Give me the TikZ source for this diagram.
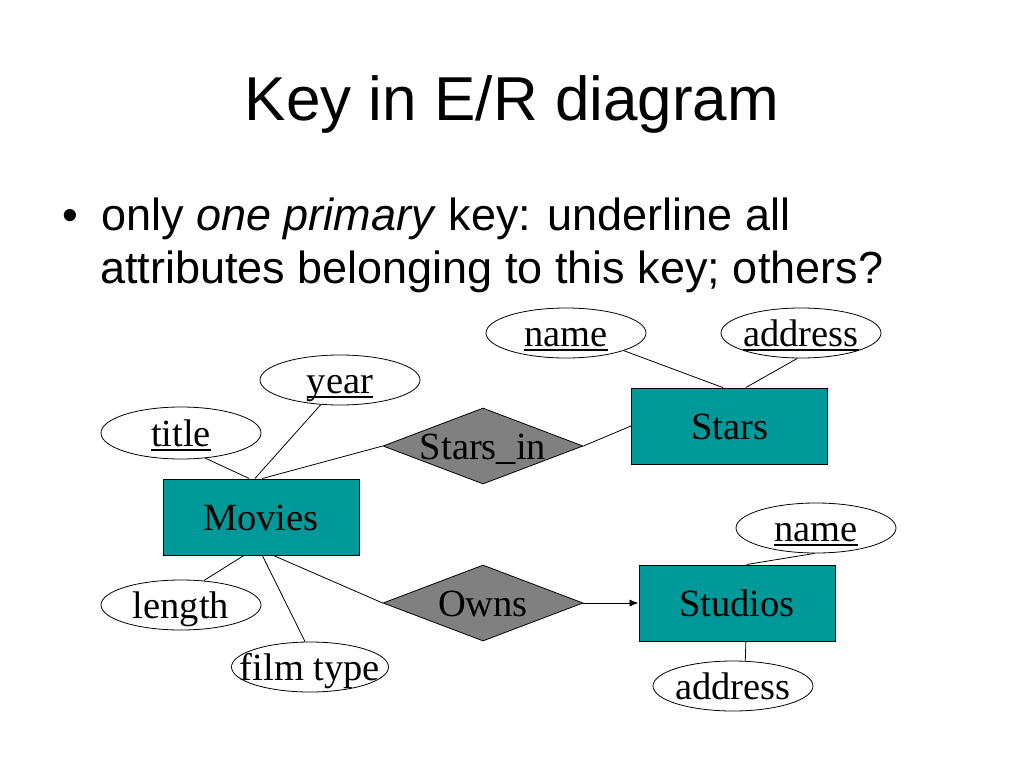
\documentclass[tikz,border=0pt]{standalone}
\usepackage{fontspec}
\setmainfont{Liberation Serif}
\newfontfamily\slidesans{Liberation Sans}
\usetikzlibrary{shapes.geometric,arrows.meta}
\definecolor{entfill}{HTML}{009999}
\definecolor{relfill}{HTML}{808080}
\newcommand{\keyul}[1]{\setbox0\hbox{#1}\rlap{\rule[-4.5pt]{\wd0}{1.6pt}}\box0}
\begin{document}
\begin{tikzpicture}[x=1pt,y=-1pt,
  lbl/.style={font=\fontsize{38.5}{46}\selectfont, text height=26pt, text depth=0pt, inner sep=0pt},
  entity/.style={lbl, draw=black, line width=1pt, fill=entfill, minimum width=196pt, minimum height=76pt},
  rel/.style={lbl, diamond, draw=black, line width=0.8pt, fill=relfill, minimum width=200pt, minimum height=76pt, aspect=2.63},
  attr/.style={lbl, ellipse, draw=black, line width=0.8pt, fill=white, minimum width=160pt, minimum height=50pt},
  conn/.style={line width=0.8pt},
  slidetext/.style={anchor=base west, inner sep=0pt, font=\slidesans\fontsize{45}{54}\selectfont}
]
\fill[white] (0,0) rectangle (1024,768);
\useasboundingbox (0,0) rectangle (1024,768);

% title and bullet
\node[anchor=base, inner sep=0pt, font=\slidesans\fontsize{62}{74}\selectfont] (ttl) at (512,120) {Key in E/R diagram};
\node[slidetext] (bul) at (62,230) {\textbullet};
\node[slidetext] (b1) at (101,230) {only \textit{one primary} key: underline all};
\node[slidetext] (b2) at (100,283) {attributes belonging to this key; others?};

% attributes
\node[attr, minimum height=52pt] (title) at (181,433) {\makebox[0pt]{\keyul{title}}};
\node[attr] (year) at (340,380) {\makebox[0pt]{\keyul{year}}};
\node[attr] (sname) at (566,333) {\makebox[0pt]{\keyul{name}}};
\node[attr] (saddr) at (801,333) {\makebox[0pt]{\keyul{address}}};
\node[attr] (stname) at (816,528) {\makebox[0pt]{\keyul{name}}};
\node[attr] (length) at (181,605) {\makebox[0pt]{length}};
\node[attr, minimum width=157pt] (filmtype) at (310,667) {\makebox[0pt]{film type}};
\node[attr] (staddr) at (733,686) {\makebox[0pt]{address}};

% entities and relationships
\node[entity] (movies) at (261,517) {Movies};
\node[entity] (stars) at (729.5,426) {Stars};
\node[entity] (studios) at (737,603) {Studios};
\node[rel] (starsin) at (483,446) {\makebox[0pt]{Stars\_in}};
\node[rel] (owns) at (483,603) {\makebox[0pt]{Owns}};

% connectors
\draw[conn] (title.-46) -- (movies.107);
\draw[conn] (year.232) -- (movies.99);
\draw[conn] (starsin.west) -- (movies.88);
\draw[conn] (starsin.east) -- (stars.west);
\draw[conn] (sname.-17) -- (stars.100);
\draw[conn] (saddr.-98) -- (stars.67);
\draw[conn] (movies.246) -- (length.47);
\draw[conn] (movies.-88) -- (filmtype.101);
\draw[conn] (movies.-72) -- (owns.west);
\draw[conn,-{Latex[length=9pt,width=7pt]}] (owns.east) -- (studios.west);
\draw[conn] (studios.76) -- (stname.-93);
\draw[conn] (studios.-77) -- (staddr.64);
\end{tikzpicture}
\end{document}
